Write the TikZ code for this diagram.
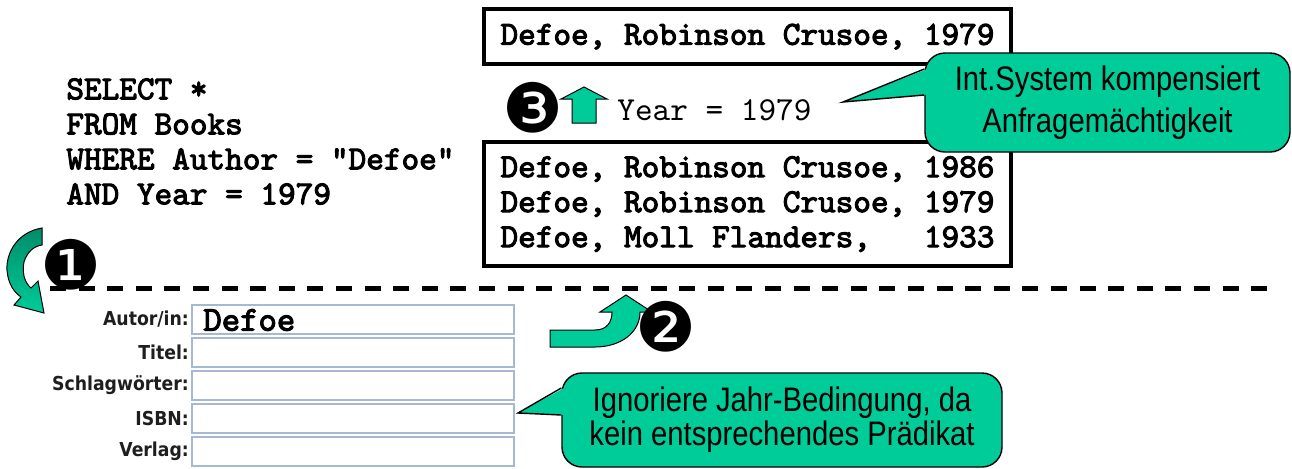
\documentclass[tikz,border=0pt]{standalone}
\usepackage{fontspec}
\usepackage{tikz}
\usetikzlibrary{positioning, calc}
\setmainfont{Liberation Sans}
\newfontfamily\codefont{lmmono10-regular.otf}
\newfontfamily\boldcode{lmmono10-regular.otf}[FakeBold=3]
\newfontfamily\notefont[FakeStretch=0.86]{Liberation Sans}
\newfontfamily\formfont[FakeStretch=0.9]{DejaVu Sans}
\newfontfamily\dingfont{DejaVu Sans}

\definecolor{notegreen}{RGB}{0, 204, 153}
\definecolor{notedark}{RGB}{0, 140, 105}
\definecolor{fieldblue}{RGB}{165, 185, 210}
\definecolor{labelgray}{RGB}{30, 30, 30}

\tikzset{
  querytext/.style={inner sep=0pt, align=left, font=\boldcode\fontsize{16.8}{17.5}\selectfont},
  resultbox/.style={draw, line width=2pt, minimum width=263.5pt, inner sep=0pt, align=center, font=\boldcode\fontsize{16.8}{17.5}\selectfont},
  condtext/.style={inner sep=0pt, font=\codefont\fontsize{16.8}{17.5}\selectfont},
  notebox/.style={draw=black, line width=0.7pt, fill=notegreen, rounded corners=10pt, align=center, inner sep=0pt, font=\notefont\fontsize{17}{21}\selectfont},
  noteline/.style={line width=0.7pt, line join=miter},
  stepnum/.style={inner sep=0pt, font=\dingfont\fontsize{34}{34}\selectfont},
  blockarrow/.style={draw=black, line width=0.5pt, fill=notegreen},
  curvearrow/.style={draw=black, line width=0.5pt, top color=notedark, bottom color=notegreen},
  sepline/.style={line width=2.5pt, dash pattern=on 8pt off 6.3pt},
  formfield/.style={draw=fieldblue, line width=0.75pt, fill=white, minimum width=161pt, minimum height=14.5pt, inner sep=0pt},
  formlabel/.style={inner sep=1pt, text=labelgray, font=\formfont\bfseries\fontsize{9.6}{11}\selectfont},
  fieldtext/.style={inner sep=0pt, font=\boldcode\fontsize{17.5}{18}\selectfont}
}

\begin{document}
\begin{tikzpicture}[x=0.5pt, y=-0.5pt]
  \useasboundingbox (0,0) rectangle (1292,468);

  % SQL query
  \node[querytext, anchor=north west] (query) at (66,78) {SELECT *\\FROM Books\\WHERE Author = "Defoe"\\AND Year = 1979};

  % Result boxes
  \node[resultbox, minimum height=27.5pt] (topres) at (747.5,36.5) {Defoe, Robinson Crusoe, 1979};
  \node[resultbox, minimum height=62pt] (allres) at (747.5,204) {Defoe, Robinson Crusoe, 1986\\Defoe, Robinson Crusoe, 1979\\Defoe, Moll Flanders,\ \ \ 1933};

  % Step 3: filter year
  \node[stepnum] (stepthree) at (533,108) {❸};
  \draw[blockarrow] (572,123) -- (572,99) -- (561,99) -- (584,87) -- (607,99) -- (596,99) -- (596,123) -- cycle;
  \node[condtext, anchor=west] (yearcond) at (617,110) {Year = 1979};

  % Callout: Int.System
  \node[notebox, minimum width=182.5pt, minimum height=49.5pt] (intsys) at (1107.5,102.5) {Int.System kompensiert\\Anfragemächtigkeit};
  \coordinate (intsystip) at (843,102);
  \fill[notegreen] ($(intsys.west)+(3,-33.5)$) -- (intsystip) -- ($(intsys.west)+(3,-7.5)$) -- cycle;
  \draw[noteline] ($(intsys.west)+(0,-33.5)$) -- (intsystip) -- ($(intsys.west)+(0,-7.5)$);

  % Separator
  \coordinate (sepleft) at (50,288);
  \coordinate (sepright) at (1275,288);
  \draw[sepline] (sepleft) -- (sepright);

  % Step 1: query down to the form
  \shadedraw[curvearrow] (42,228) .. controls (18,232) and (6,252) .. (7,270) .. controls (8,284) and (14,292) .. (21,297) -- (14,305) -- (44,313) -- (38,281) -- (31,288) .. controls (24,282) and (22,272) .. (24,262) .. controls (27,252) and (34,246) .. (42,245) -- cycle;
  \node[stepnum] (stepone) at (71,265) {❶};

  % Web form
  \foreach \lab [count=\i] in {{Autor/in:}, {Titel:}, {Schlagwörter:}, {ISBN:}, {Verlag:}} {
    \node[formfield] (field\i) at (353,286.5+33*\i) {};
    \node[formlabel, left=0pt of field\i] (label\i) {\lab};
  }
  \node[fieldtext, anchor=west] (authorval) at (203,320) {Defoe};

  % Step 2: answer back up
  \draw[blockarrow] (550,330) -- (595,330) .. controls (607,330) and (612,322) .. (612,312) -- (600,312) -- (626,295) -- (652,312) -- (640,312) .. controls (640,333) and (620,347) .. (595,347) -- (550,347) -- cycle;
  \node[stepnum] (steptwo) at (666,327) {❷};

  % Callout: ignore year
  \node[notebox, minimum width=220pt, minimum height=47pt, font=\notefont\fontsize{17}{17}\selectfont] (ignoreyear) at (782,420) {Ignoriere Jahr-Bedingung, da\\kein entsprechendes Prädikat};
  \coordinate (ignoretip) at (518,413);
  \fill[notegreen] ($(ignoreyear.west)+(3,-32)$) -- (ignoretip) -- ($(ignoreyear.west)+(3,-5)$) -- cycle;
  \draw[noteline] ($(ignoreyear.west)+(0,-32)$) -- (ignoretip) -- ($(ignoreyear.west)+(0,-5)$);
\end{tikzpicture}
\end{document}
